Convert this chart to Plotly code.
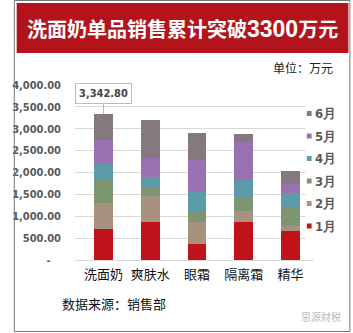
import plotly.graph_objects as go

# ---- data ----
categories = ["洗面奶", "爽肤水", "眼霜", "隔离霜", "精华"]
month_names = ["1月", "2月", "3月", "4月", "5月", "6月"]
m1 = [702, 876, 366, 876, 663]
m2 = [594, 587, 510, 251, 114]
m3 = [533, 199, 228, 306, 427]
m4 = [381, 228, 457, 396, 335]
m5 = [533, 441, 725, 868, 191]
m6 = [599.8, 869, 610, 183, 311]
series = [m1, m2, m3, m4, m5, m6]
colors = ["#C0121A", "#A6927E", "#7E9571", "#5B9AA7", "#9A71B0", "#86787F"]
y_ticks = [0, 500, 1000, 1500, 2000, 2500, 3000, 3500, 4000]
y_ticktext = ["-\u00a0\u00a0\u00a0"] + [f"{v:,.2f}" for v in y_ticks[1:]]

W, H = 353, 333
L, R, T, B = 64, 39, 85, 73
PW, PH = W - L - R, H - T - B


def px(x):
    return (x - L) / PW


def py(y):
    return (H - B - y) / PH


num_font = "'DejaVu Sans Condensed', 'Liberation Sans Narrow', Arial Narrow, sans-serif"
cjk_font = "'Noto Sans CJK SC', 'Noto Sans', sans-serif"

fig = go.Figure()
for name, vals, c in zip(month_names, series, colors):
    fig.add_trace(go.Bar(x=categories, y=vals, name=name, marker_color=c,
                         marker_line_width=0, showlegend=False))

annotations = []
shapes = []

# banner
shapes.append(dict(type="rect", xref="paper", yref="paper",
                   x0=px(3), x1=px(350), y0=py(53), y1=py(3),
                   fillcolor="#B3141C", line_width=0, layer="above"))
# frame
shapes.append(dict(type="rect", xref="paper", yref="paper",
                   x0=px(0.5), x1=px(351.5), y0=py(331.5), y1=py(0.5),
                   line=dict(color="#777777", width=1), fillcolor="rgba(0,0,0,0)"))
# legend background
shapes.append(dict(type="rect", xref="paper", yref="paper",
                   x0=px(305), x1=px(315), y0=py(241), y1=py(98),
                   fillcolor="white", line_width=0, layer="above"))

annotations.append(dict(
    xref="paper", yref="paper", x=px(176.5), y=py(28), showarrow=False,
    text="<b>洗面奶单品销售累计突破<span style='font-family:Liberation Sans, Arial;font-size:23px'>3300</span>万元</b>",
    font=dict(family=cjk_font, size=20, color="white"),
    xanchor="center", yanchor="middle"))
annotations.append(dict(
    xref="paper", yref="paper", x=px(336), y=py(68), showarrow=False,
    text="单位：万元", font=dict(family=cjk_font, size=12, color="#222222"),
    xanchor="right", yanchor="middle"))
annotations.append(dict(
    xref="paper", yref="paper", x=px(48), y=py(303), showarrow=False,
    text="数据来源：销售部", font=dict(family=cjk_font, size=13, color="#111111"),
    xanchor="left", yanchor="middle"))
annotations.append(dict(
    xref="paper", yref="paper", x=px(344), y=py(316), showarrow=False,
    text="思源财税", font=dict(family=cjk_font, size=10, color="#BBBBBB"),
    xanchor="right", yanchor="middle"))

# callout for first bar total
total0 = sum(s[0] for s in series)
annotations.append(dict(
    x=categories[0], y=total0, xref="x", yref="y",
    text=f"{total0:,.2f}", showarrow=True, arrowhead=0, arrowwidth=1,
    arrowcolor="#BBBBBB", ax=0, ay=-20,
    bordercolor="#BBBBBB", borderwidth=1, borderpad=3, bgcolor="white",
    font=dict(family=num_font, size=11, color="#444444", weight="bold")))

# legend (top: 6月 ... bottom: 1月)
leg_y0, leg_step = 113.5, 22.5
for i, (name, c) in enumerate(zip(reversed(month_names), reversed(colors))):
    yy = leg_y0 + i * leg_step
    shapes.append(dict(type="rect", xref="paper", yref="paper",
                       x0=px(306.5), x1=px(311.5), y0=py(yy + 2.5), y1=py(yy - 2.5),
                       fillcolor=c, line_width=0, layer="above"))
    annotations.append(dict(
        xref="paper", yref="paper", x=px(313), y=py(yy), showarrow=False,
        text=f"<b>{name}</b>", font=dict(family=num_font, size=13, color="#595959"),
        xanchor="left", yanchor="middle"))

fig.update_layout(
    width=W, height=H, margin=dict(l=L, r=R, t=T, b=B),
    barmode="stack", bargap=0.6,
    paper_bgcolor="white", plot_bgcolor="white",
    shapes=shapes, annotations=annotations,
    xaxis=dict(showline=True, linecolor="#D9D9D9", linewidth=1,
               tickfont=dict(family=cjk_font, size=13, color="#111111"),
               ticks="", ticklabelstandoff=2, fixedrange=True),
    yaxis=dict(range=[0, 4000], tickvals=y_ticks, ticktext=y_ticktext,
               showgrid=True, gridcolor="#D9D9D9", gridwidth=1, zeroline=False,
               tickfont=dict(family=num_font, size=11, color="#595959", weight="bold"),
               ticklabelstandoff=13, fixedrange=True),
)

fig.write_html("out.html")
